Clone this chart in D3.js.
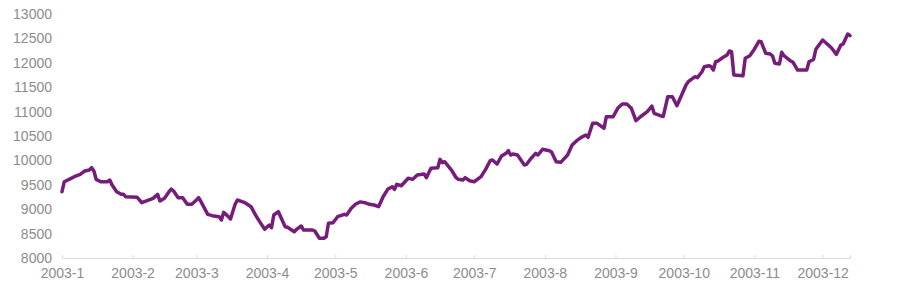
<!DOCTYPE html>
<html>
<head>
<meta charset="utf-8">
<script src="https://cdn.jsdelivr.net/npm/d3@7"></script>
<style>
  body { margin: 0; background: #fff; }
  svg { display: block; font-family: "Liberation Sans", Arial, sans-serif; }
</style>
</head>
<body>
<svg></svg>
<script>
// index values (daily-ish close), 2003
const dates = [
  "2003-01-01","2003-01-02","2003-01-05","2003-01-07","2003-01-09","2003-01-11","2003-01-13","2003-01-14","2003-01-15","2003-01-16",
  "2003-01-18","2003-01-21","2003-01-22","2003-01-23","2003-01-25","2003-01-27","2003-01-28","2003-01-29","2003-02-03","2003-02-05",
  "2003-02-08","2003-02-10","2003-02-12","2003-02-13","2003-02-15","2003-02-17","2003-02-18","2003-02-19","2003-02-21","2003-02-23",
  "2003-02-25","2003-02-27","2003-03-01","2003-03-02","2003-03-03","2003-03-06","2003-03-08","2003-03-11","2003-03-12","2003-03-13",
  "2003-03-14","2003-03-16","2003-03-18","2003-03-19","2003-03-22","2003-03-25","2003-03-27","2003-03-29","2003-03-31","2003-04-02",
  "2003-04-03","2003-04-04","2003-04-06","2003-04-09","2003-04-10","2003-04-13","2003-04-14","2003-04-16","2003-04-17","2003-04-21",
  "2003-04-22","2003-04-24","2003-04-26","2003-04-27","2003-04-28","2003-04-30","2003-05-02","2003-05-05","2003-05-06","2003-05-08",
  "2003-05-10","2003-05-12","2003-05-14","2003-05-16","2003-05-18","2003-05-20","2003-05-22","2003-05-24","2003-05-26","2003-05-27",
  "2003-05-28","2003-05-30","2003-06-02","2003-06-04","2003-06-06","2003-06-09","2003-06-10","2003-06-12","2003-06-15","2003-06-16",
  "2003-06-17","2003-06-18","2003-06-21","2003-06-23","2003-06-24","2003-06-26","2003-06-27","2003-06-29","2003-07-01","2003-07-04",
  "2003-07-06","2003-07-08","2003-07-09","2003-07-11","2003-07-13","2003-07-15","2003-07-16","2003-07-17","2003-07-18","2003-07-20",
  "2003-07-23","2003-07-24","2003-07-26","2003-07-28","2003-07-29","2003-07-31","2003-08-03","2003-08-04","2003-08-06","2003-08-08",
  "2003-08-11","2003-08-13","2003-08-15","2003-08-17","2003-08-19","2003-08-20","2003-08-22","2003-08-24","2003-08-27","2003-08-28",
  "2003-08-31","2003-09-02","2003-09-04","2003-09-06","2003-09-08","2003-09-10","2003-09-12","2003-09-15","2003-09-17","2003-09-18",
  "2003-09-21","2003-09-22","2003-09-24","2003-09-26","2003-09-28","2003-10-02","2003-10-03","2003-10-06","2003-10-07","2003-10-09",
  "2003-10-10","2003-10-12","2003-10-13","2003-10-14","2003-10-15","2003-10-16","2003-10-18","2003-10-20","2003-10-21","2003-10-22",
  "2003-10-23","2003-10-27","2003-10-28","2003-10-30","2003-11-01","2003-11-03","2003-11-04","2003-11-06","2003-11-08","2003-11-09",
  "2003-11-10","2003-11-12","2003-11-13","2003-11-14","2003-11-17","2003-11-18","2003-11-20","2003-11-24","2003-11-25","2003-11-27",
  "2003-11-28","2003-12-01","2003-12-03","2003-12-05","2003-12-07","2003-12-09","2003-12-10","2003-12-12","2003-12-13"
];
const values = [
  9358,9563,9633,9680,9715,9783,9803,9850,9783,9612,
  9563,9563,9598,9496,9358,9305,9305,9256,9244,9133,
  9188,9223,9305,9168,9223,9358,9414,9373,9236,9236,
  9100,9100,9188,9236,9154,8895,8867,8846,8779,8936,
  8895,8799,9100,9188,9141,9051,8880,8730,8588,8676,
  8621,8881,8949,8641,8629,8539,8588,8656,8574,8574,
  8553,8404,8404,8436,8711,8723,8846,8895,8881,9018,
  9106,9150,9133,9100,9086,9051,9256,9407,9461,9407,
  9510,9481,9633,9612,9701,9721,9646,9838,9851,10022,
  9953,9973,9803,9650,9612,9598,9646,9584,9563,9666,
  9817,9994,10008,9926,10090,10145,10199,10110,10131,10110,
  9906,9920,10043,10145,10110,10227,10199,10166,9973,9960,
  10110,10315,10404,10473,10520,10473,10760,10760,10658,10895,
  10895,11067,11155,11155,11067,10813,10895,10998,11114,10965,
  10910,10900,11305,11305,11121,11545,11613,11715,11695,11817,
  11920,11940,11920,11852,12022,12036,12104,12159,12241,12227,
  11750,11735,12092,12145,12280,12440,12430,12194,12180,12139,
  11989,11975,12215,12145,12036,12010,11852,11852,12022,12071,
  12276,12467,12385,12297,12173,12364,12385,12590,12555
];
const yTicks = [8000, 8500, 9000, 9500, 10000, 10500, 11000, 11500, 12000, 12500, 13000];

const w = 906, h = 284;
const margin = { top: 14, right: 56, bottom: 26, left: 62 };

const parse = d3.timeParse("%Y-%m-%d");
const data = dates.map((d, i) => ({ date: parse(d), value: values[i] }));

const svg = d3.select("svg").attr("width", w).attr("height", h);

const x = d3.scaleTime()
  .domain(d3.extent(data, d => d.date))
  .range([margin.left, w - margin.right]);
const y = d3.scaleLinear()
  .domain([8000, 13000])
  .range([h - margin.bottom, margin.top]);

// y axis: labels only
const gy = svg.append("g")
  .attr("transform", `translate(${margin.left},0)`)
  .call(d3.axisLeft(y).tickValues(yTicks).tickSize(0).tickPadding(10).tickFormat(d3.format("d")));
gy.select(".domain").remove();
gy.selectAll("text").attr("fill", "#8c8c8c").style("font-size", "14px");

// x axis
const months = d3.timeMonth.range(new Date(2003, 0, 1), new Date(2003, 11, 2));
const gx = svg.append("g")
  .attr("transform", `translate(0,${h - margin.bottom})`)
  .call(d3.axisBottom(x).tickValues(months).tickSize(-3).tickPadding(10)
    .tickFormat(d3.timeFormat("%Y-%-m")));
gx.select(".domain").attr("stroke", "#dcdcdc");
gx.selectAll(".tick line").attr("stroke", "#dcdcdc");
gx.selectAll("text").attr("fill", "#8c8c8c").style("font-size", "14px");

const line = d3.line()
  .x(d => x(d.date))
  .y(d => y(d.value));

svg.append("path")
  .datum(data)
  .attr("fill", "none")
  .attr("stroke", "#761d7c")
  .attr("stroke-width", 3.5)
  .attr("stroke-linejoin", "round")
  .attr("stroke-linecap", "round")
  .attr("d", line);
</script>
</body>
</html>
